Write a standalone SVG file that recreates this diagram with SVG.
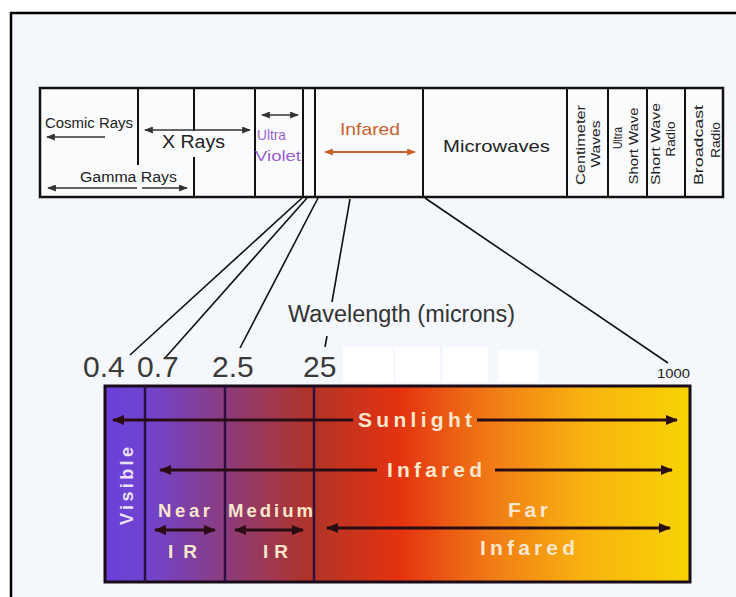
<svg xmlns="http://www.w3.org/2000/svg" width="736" height="597" viewBox="0 0 736 597">
<defs>
<style>
.band{fill:#fafbfd;stroke:#111;stroke-width:2.5}
.div{stroke:#111;stroke-width:2}
.thin{stroke:#333;stroke-width:1.6;fill:none}
.lbl{font-family:"Liberation Sans",Arial,sans-serif;fill:#222}
.rot{font-family:"Liberation Sans",Arial,sans-serif;font-size:12px;fill:#222;text-anchor:middle}
.num{font-family:"Liberation Sans",Arial,sans-serif;font-size:30px;fill:#3a3a3a}
.inbox{font-family:"Liberation Sans",Arial,sans-serif;font-weight:bold;fill:#fce6cc}
.arr{stroke:#2a0c14;stroke-width:3;fill:none}
.conn{stroke:#111;stroke-width:1.6;fill:none}
</style>
<marker id="ah" viewBox="0 0 10 8" refX="9" refY="4" markerWidth="10" markerHeight="7" markerUnits="userSpaceOnUse" orient="auto-start-reverse">
<path d="M0,0 L10,4 L0,8 z" fill="#333"/>
</marker>
<marker id="ahO" viewBox="0 0 10 8" refX="9" refY="4" markerWidth="9" markerHeight="7" markerUnits="userSpaceOnUse" orient="auto-start-reverse">
<path d="M0,0 L10,4 L0,8 z" fill="#c8602a"/>
</marker>
<marker id="ahB" viewBox="0 0 12 10" refX="11" refY="5" markerWidth="14" markerHeight="10" markerUnits="userSpaceOnUse" orient="auto-start-reverse">
<path d="M0,0 L12,5 L0,10 z" fill="#2a0c14"/>
</marker>
<linearGradient id="spec" x1="105" y1="0" x2="692" y2="0" gradientUnits="userSpaceOnUse">
<stop offset="0" stop-color="#6a40d8"/>
<stop offset="0.07" stop-color="#7044d0"/>
<stop offset="0.2" stop-color="#8a3c80"/>
<stop offset="0.35" stop-color="#b03428"/>
<stop offset="0.5" stop-color="#e43210"/>
<stop offset="0.65" stop-color="#f07816"/>
<stop offset="0.82" stop-color="#f8b410"/>
<stop offset="1" stop-color="#f8d404"/>
</linearGradient>
</defs>

<rect x="0" y="0" width="736" height="597" fill="#ffffff"/>
<rect x="11" y="13" width="730" height="600" fill="#f4f7fb" stroke="#000" stroke-width="2.5"/>

<g id="em-band">
<rect class="band" x="40" y="88" width="683" height="109"/>
<line class="div" x1="138" y1="88" x2="138" y2="165"/>
<line class="div" x1="194" y1="88" x2="194" y2="131"/>
<line class="div" x1="194" y1="157" x2="194" y2="197"/>
<line class="div" x1="255" y1="88" x2="255" y2="197"/>
<line class="div" x1="303" y1="88" x2="303" y2="197"/>
<line class="div" x1="315" y1="88" x2="315" y2="197"/>
<line class="div" x1="423" y1="88" x2="423" y2="197"/>
<line class="div" x1="567" y1="88" x2="567" y2="197"/>
<line class="div" x1="608" y1="88" x2="608" y2="197"/>
<line class="div" x1="647" y1="88" x2="647" y2="197"/>
<line class="div" x1="685" y1="88" x2="685" y2="197"/>
</g>

<g id="cosmic-rays">
<text class="lbl" x="45" y="128" font-size="14" textLength="88" lengthAdjust="spacingAndGlyphs">Cosmic Rays</text>
<line class="thin" x1="47" y1="137" x2="105" y2="137" marker-start="url(#ah)"/>
</g>

<g id="x-rays">
<line class="thin" x1="145" y1="130" x2="250" y2="130" marker-start="url(#ah)" marker-end="url(#ah)"/>
<text class="lbl" x="162" y="148" font-size="17.5" textLength="63" lengthAdjust="spacingAndGlyphs">X Rays</text>
</g>

<g id="gamma-rays">
<text class="lbl" x="80" y="182" font-size="14" textLength="97" lengthAdjust="spacingAndGlyphs">Gamma Rays</text>
<line class="thin" x1="48" y1="188" x2="137" y2="188" marker-start="url(#ah)"/>
<line class="thin" x1="142" y1="188" x2="187" y2="188" marker-end="url(#ah)"/>
</g>

<g id="ultra-violet">
<line class="thin" x1="262" y1="115" x2="298" y2="115" marker-start="url(#ah)" marker-end="url(#ah)"/>
<text class="lbl" x="257" y="140" font-size="15" textLength="29" lengthAdjust="spacingAndGlyphs" style="fill:#9a5fd0">Ultra</text>
<text class="lbl" x="255" y="161" font-size="15" textLength="46" lengthAdjust="spacingAndGlyphs" style="fill:#9a5fd0">Violet</text>
</g>

<g id="infared-top">
<text class="lbl" x="340" y="135" font-size="17" textLength="60" lengthAdjust="spacingAndGlyphs" style="fill:#c8602e">Infared</text>
<line x1="325" y1="152" x2="415" y2="152" stroke="#c8602a" stroke-width="2" marker-start="url(#ahO)" marker-end="url(#ahO)"/>
</g>

<g id="microwaves">
<text class="lbl" x="443" y="152" font-size="16.5" textLength="107" lengthAdjust="spacingAndGlyphs">Microwaves</text>
</g>

<g id="centimeter-waves">
<text class="rot" transform="translate(585,145) rotate(-90)" textLength="80" lengthAdjust="spacingAndGlyphs">Centimeter</text>
<text class="rot" transform="translate(600,144) rotate(-90)" textLength="47" lengthAdjust="spacingAndGlyphs">Waves</text>
</g>
<g id="ultra-short-wave">
<text class="rot" transform="translate(622,138) rotate(-90)" textLength="22" lengthAdjust="spacingAndGlyphs">Ultra</text>
<text class="rot" transform="translate(638,146) rotate(-90)" textLength="77" lengthAdjust="spacingAndGlyphs">Short Wave</text>
</g>
<g id="short-wave-radio">
<text class="rot" transform="translate(660,144) rotate(-90)" textLength="82" lengthAdjust="spacingAndGlyphs">Short Wave</text>
<text class="rot" transform="translate(675,139) rotate(-90)" textLength="35" lengthAdjust="spacingAndGlyphs">Radio</text>
</g>
<g id="broadcast-radio">
<text class="rot" transform="translate(703,145) rotate(-90)" textLength="80" lengthAdjust="spacingAndGlyphs">Broadcast</text>
<text class="rot" transform="translate(720,140) rotate(-90)" textLength="36" lengthAdjust="spacingAndGlyphs">Radio</text>
</g>

<g id="connectors">
<line class="conn" x1="302" y1="198" x2="130" y2="355"/>
<line class="conn" x1="307" y1="198" x2="165" y2="358"/>
<line class="conn" x1="318" y1="198" x2="240" y2="348"/>
<line class="conn" x1="350" y1="199" x2="332" y2="302"/>
<line class="conn" x1="327" y1="336" x2="325" y2="347"/>
<line class="conn" x1="425" y1="198" x2="668" y2="363"/>
</g>

<g id="wavelength-label">
<text class="lbl" x="288" y="322" font-size="23" textLength="227" lengthAdjust="spacingAndGlyphs" style="fill:#333">Wavelength (microns)</text>
</g>

<g id="patches">
<rect x="343" y="347" width="50" height="35" fill="#ffffff"/>
<rect x="395" y="347" width="45" height="35" fill="#ffffff"/>
<rect x="443" y="347" width="45" height="35" fill="#ffffff"/>
<rect x="498" y="350" width="40" height="32" fill="#ffffff"/>
</g>

<g id="scale-labels">
<text class="num" x="83" y="377">0.4</text>
<text class="num" x="137" y="377">0.7</text>
<text class="num" x="212" y="377">2.5</text>
<text class="num" x="303" y="377">25</text>
<text class="lbl" x="657" y="378" font-size="12" textLength="33" lengthAdjust="spacingAndGlyphs">1000</text>
</g>

<g id="spectrum-box">
<rect x="105" y="386" width="585" height="196" fill="url(#spec)" stroke="#1a0c18" stroke-width="3"/>
<line x1="145" y1="386" x2="145" y2="582" stroke="#2a1040" stroke-width="2.5"/>
<line x1="225" y1="386" x2="225" y2="582" stroke="#2a1040" stroke-width="2.5"/>
<line x1="314" y1="386" x2="314" y2="582" stroke="#2a1040" stroke-width="2.5"/>
</g>

<g id="visible">
<text class="inbox" font-size="18" transform="translate(133,525) rotate(-90)" textLength="78" lengthAdjust="spacing" style="fill:#ece0f8">Visible</text>
</g>

<g id="sunlight">
<line class="arr" x1="113" y1="420" x2="353" y2="420" marker-start="url(#ahB)"/>
<text class="inbox" x="358" y="427" font-size="21" textLength="114" lengthAdjust="spacing">Sunlight</text>
<line class="arr" x1="477" y1="420" x2="677" y2="420" marker-end="url(#ahB)"/>
</g>

<g id="infared-bottom">
<line class="arr" x1="160" y1="470" x2="377" y2="470" marker-start="url(#ahB)"/>
<text class="inbox" x="387" y="477" font-size="21" textLength="95" lengthAdjust="spacing">Infared</text>
<line class="arr" x1="495" y1="470" x2="672" y2="470" marker-end="url(#ahB)"/>
</g>

<g id="near-ir">
<text class="inbox" x="158" y="517" font-size="18.5" textLength="52" lengthAdjust="spacing">Near</text>
<line class="arr" x1="155" y1="530" x2="215" y2="530" marker-start="url(#ahB)" marker-end="url(#ahB)"/>
<text class="inbox" x="168" y="558" font-size="19" textLength="29" lengthAdjust="spacing">IR</text>
</g>

<g id="medium-ir">
<text class="inbox" x="228" y="517" font-size="18.5" textLength="85" lengthAdjust="spacing">Medium</text>
<line class="arr" x1="235" y1="530" x2="303" y2="530" marker-start="url(#ahB)" marker-end="url(#ahB)"/>
<text class="inbox" x="263" y="558" font-size="19" textLength="25" lengthAdjust="spacing">IR</text>
</g>

<g id="far-infared">
<text class="inbox" x="508" y="517" font-size="21" textLength="40" lengthAdjust="spacing">Far</text>
<line class="arr" x1="327" y1="528" x2="670" y2="528" marker-start="url(#ahB)" marker-end="url(#ahB)"/>
<text class="inbox" x="480" y="555" font-size="21" textLength="95" lengthAdjust="spacing">Infared</text>
</g>
</svg>
